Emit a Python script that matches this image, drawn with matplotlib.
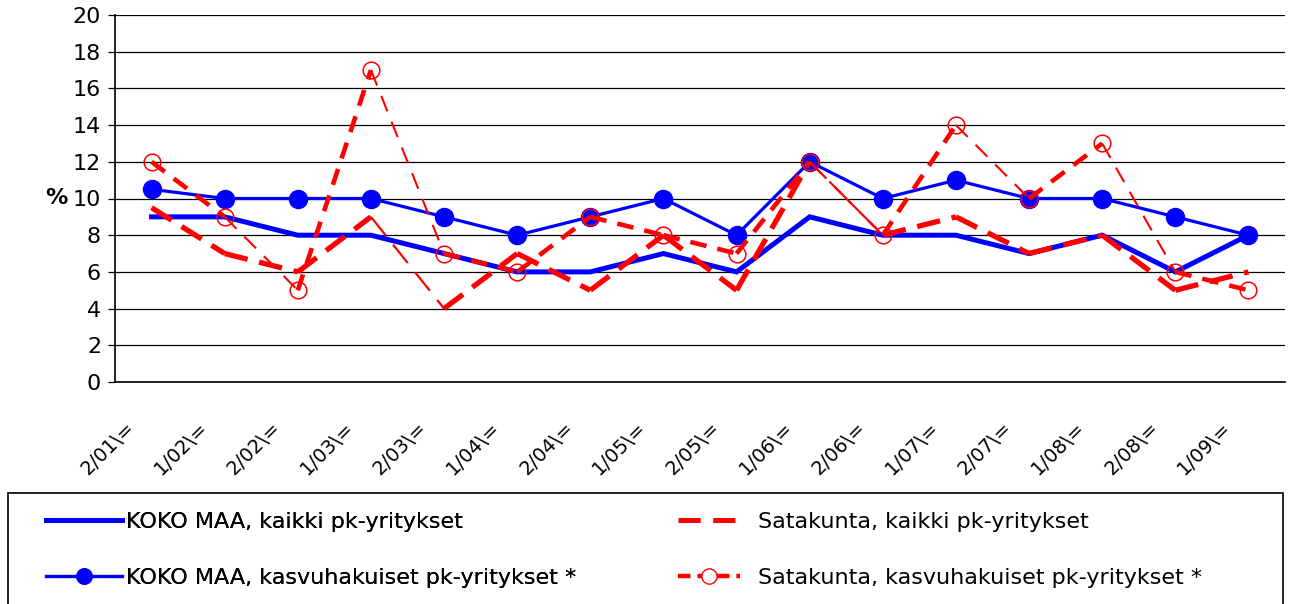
import numpy as np
import matplotlib
matplotlib.use('Agg')
import matplotlib.pyplot as plt
from matplotlib.collections import LineCollection
from matplotlib.lines import Line2D
from matplotlib.patches import Rectangle
from matplotlib.transforms import ScaledTranslation

matplotlib.rcParams['font.family'] = ['DejaVu Sans']
matplotlib.rcParams['lines.scale_dashes'] = False

# data
periods = ['2/01\\=', '1/02\\=', '2/02\\=', '1/03\\=', '2/03\\=', '1/04\\=', '2/04\\=', '1/05\\=',
           '2/05\\=', '1/06\\=', '2/06\\=', '1/07\\=', '2/07\\=', '1/08\\=', '2/08\\=', '1/09\\=']
koko_kaikki = [9, 9, 8, 8, 7, 6, 6, 7, 6, 9, 8, 8, 7, 8, 6, 8]
koko_kasvu = [10.5, 10, 10, 10, 9, 8, 9, 10, 8, 12, 10, 11, 10, 10, 9, 8]
sata_kaikki = [9.5, 7, 6, 9, 4, 7, 5, 8, 5, 12, 8, 9, 7, 8, 5, 6]
sata_kasvu = [12, 9, 5, 17, 7, 6, 9, 8, 7, 12, 8, 14, 10, 13, 6, 5]

labels = ['KOKO MAA, kaikki pk-yritykset',
          'Satakunta, kaikki pk-yritykset',
          'KOKO MAA, kasvuhakuiset pk-yritykset *',
          'Satakunta, kasvuhakuiset pk-yritykset *']

BLUE = '#0000ff'
RED = '#ff0000'
DASH_A = (0, (17, 8.5))
DASH_B = (0, (12, 8))


def dashed_segments(ax, x, y, dash, thick, thin):
    # steep falling segments come out thin in the original rendering
    pts = np.column_stack([x, y])
    segs = np.stack([pts[:-1], pts[1:]], axis=1)
    widths = np.where(np.diff(y) < -3.5, thin, thick)
    lc = LineCollection(segs, linewidths=widths, colors=RED, linestyles=[dash],
                        capstyle='butt', zorder=4)
    ax.add_collection(lc)


fig = plt.figure(figsize=(12.89, 6.04), dpi=100)
ax = fig.add_axes([115/1289, 1-382/604, 1170/1289, 367/604])

x = np.arange(len(periods))

###########################################
### Lines #################################
###########################################

ax.plot(x, koko_kaikki, color=BLUE, lw=3.6, solid_joinstyle='miter', zorder=3)
ax.plot(x, koko_kasvu, color=BLUE, lw=2.3, marker='o', ms=13, mfc=BLUE, mec=BLUE, zorder=3)

dashed_segments(ax, x, np.array(sata_kaikki, float), DASH_A, 3.8, 1.6)
dashed_segments(ax, x, np.array(sata_kasvu, float), DASH_B, 3.3, 1.5)
ax.plot(x, sata_kasvu, ls='none', marker='o', ms=12, mfc='none', mec=RED, mew=1.1, zorder=5)

###########################################
### Axes ##################################
###########################################

ax.set_xlim(-0.5, len(periods) - 0.5)
ax.set_ylim(0, 20)
ax.set_yticks(np.arange(0, 21, 2))
ax.yaxis.grid(True, color='black', lw=0.9)
ax.set_axisbelow(True)
for s in ['top', 'right']:
    ax.spines[s].set_visible(False)
ax.spines['left'].set_linewidth(1.2)
ax.spines['bottom'].set_linewidth(1.2)
ax.tick_params(axis='y', length=5, width=0.9, pad=5, labelsize=16)
ax.tick_params(axis='x', length=0, pad=26, labelsize=14)

ax.set_xticks(x)
ax.set_xticklabels(periods, rotation=45, ha='right', va='top', rotation_mode='anchor')
off = ScaledTranslation(-27/100, 0, fig.dpi_scale_trans)
for lab in ax.get_xticklabels():
    lab.set_transform(lab.get_transform() + off)

ax.set_ylabel('%', rotation=0, fontsize=16, fontweight='bold', va='center')
ax.yaxis.set_label_coords(-0.05, 0.5)

###########################################
### Legend ################################
###########################################

h_kk = Line2D([], [], color=BLUE, lw=3.6)
h_kv = Line2D([], [], color=BLUE, lw=2.3, marker='o', ms=11)
h_sk = Line2D([], [], color=RED, lw=3.6, ls=(0, (16, 9)))
h_sv = Line2D([], [], color=RED, lw=3.2, ls=(0, (9, 5)), marker='o', ms=11, mfc='white', mec=RED)

fig.add_artist(Rectangle((8/1289, -0.05), 1275/1289, 0.05 + (604-493)/604,
                         transform=fig.transFigure, fill=False, ec='black', lw=1.2))

leg1 = fig.legend([h_kk, h_kv], [labels[0], labels[2]], loc='center left',
                  bbox_to_anchor=(46/1289, 1-550/604), frameon=False, fontsize=16,
                  handlelength=3.4, handletextpad=0.2, labelspacing=1.6,
                  borderpad=0, borderaxespad=0)
leg2 = fig.legend([h_sk, h_sv], [labels[1], labels[3]], loc='center left',
                  bbox_to_anchor=(678/1289, 1-550/604), frameon=False, fontsize=16,
                  handlelength=2.8, handletextpad=0.8, labelspacing=1.6,
                  borderpad=0, borderaxespad=0)
fig.add_artist(leg1)

plt.savefig('out.png', dpi=100)
